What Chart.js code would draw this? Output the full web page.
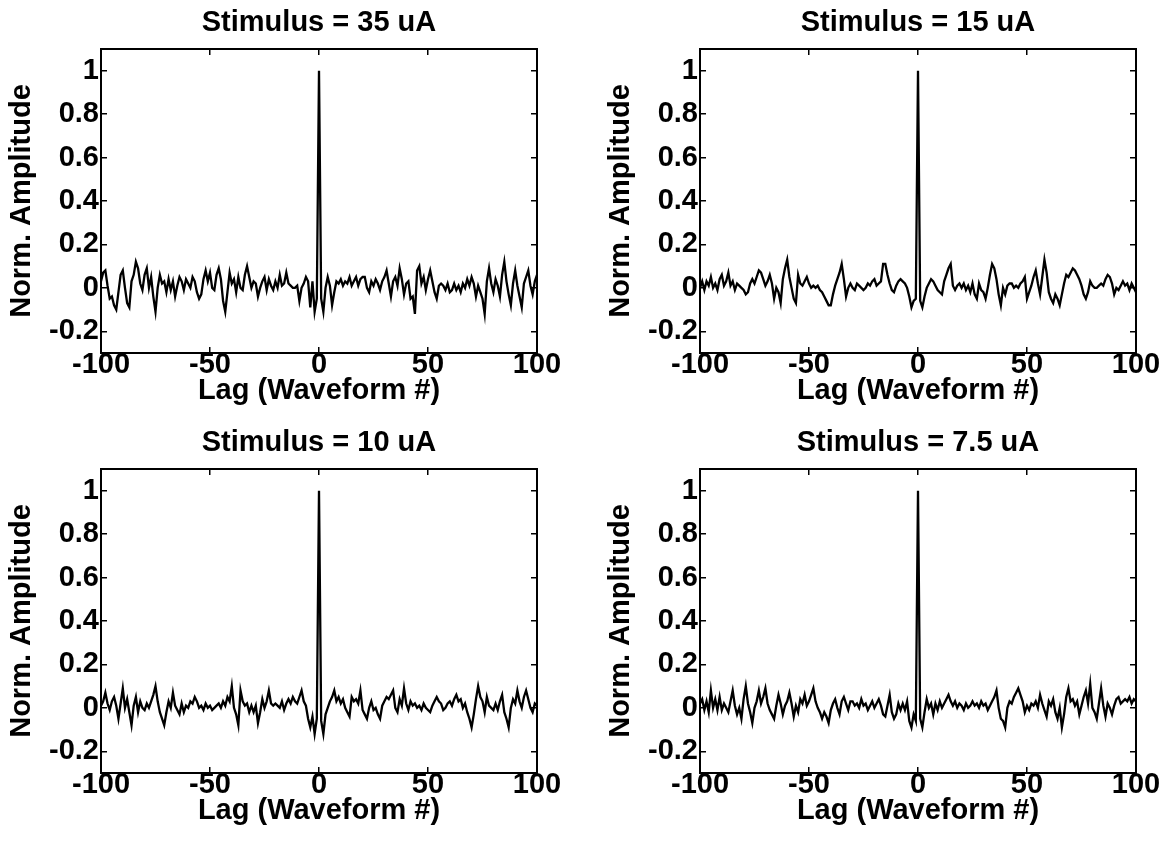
<!DOCTYPE html>
<html lang="en">
<head>
  <meta charset="UTF-8"/>
  <title>Norm. Amplitude vs Lag</title>
  <script src="https://cdn.jsdelivr.net/npm/chart.js"></script>
  <style>
    * { box-sizing: border-box; margin: 0; padding: 0; }
    html, body { width: 1173px; height: 842px; overflow: hidden; background: #fff; }
    canvas.panel { position: absolute; }
  </style>
</head>
<body>
  <canvas id="c0" class="panel" width="638" height="420" style="left:0;top:0"></canvas>
  <canvas id="c1" class="panel" width="638" height="420" style="left:599px;top:0"></canvas>
  <canvas id="c2" class="panel" width="638" height="420" style="left:0;top:420px"></canvas>
  <canvas id="c3" class="panel" width="638" height="420" style="left:599px;top:420px"></canvas>

  <script>
    // lag axis (waveform #), one point per lag
    const lags = Array.from({ length: 201 }, (_, i) => i - 100);
    const xTicks = [-100, -50, 0, 50, 100];
    const yTicks = [-0.2, 0, 0.2, 0.4, 0.6, 0.8, 1];
    const titles = ['Stimulus = 35 uA', 'Stimulus = 15 uA', 'Stimulus = 10 uA', 'Stimulus = 7.5 uA'];

    // values, lag -100 .. 100
    const amp35 = [
      0.03, 0.07, 0.08, 0.01, -0.05, -0.04, -0.08, -0.10, -0.02, 0.06,
      0.08, 0.00, -0.07, -0.09, 0.03, 0.06, 0.12, 0.09, 0.02, -0.01,
      0.06, 0.09, 0.00, 0.05, -0.04, -0.11, 0.00, 0.06, 0.02, 0.03,
      -0.02, 0.04, -0.01, 0.03, -0.04, 0.01, 0.05, 0.03, -0.01, 0.04,
      0.02, 0.00, 0.05, 0.03, -0.02, -0.05, -0.03, 0.04, 0.08, 0.03,
      0.07, 0.00, -0.01, 0.06, 0.09, 0.04, -0.06, -0.11, -0.02, 0.07,
      0.02, 0.04, -0.02, 0.05, 0.00, -0.01, 0.06, 0.10, 0.05, 0.00,
      0.03, 0.02, -0.04, 0.00, 0.03, 0.05, -0.01, 0.04, 0.01, -0.01,
      0.03, 0.00, 0.06, 0.01, 0.02, 0.07, 0.02, 0.01, 0.00, 0.00,
      0.01, -0.06, 0.00, 0.02, 0.05, 0.03, -0.09, 0.03, -0.11, -0.05,
      1.00,
      -0.05, -0.11, 0.00, 0.05, 0.01, -0.08, -0.02, 0.03, 0.02, 0.04,
      0.01, 0.03, 0.02, 0.05, 0.01, 0.03, 0.05, 0.01, 0.04, 0.05,
      0.05, 0.00, -0.02, 0.03, 0.01, 0.04, 0.02, -0.01, 0.03, 0.05,
      0.08, 0.02, -0.04, 0.03, 0.05, 0.01, 0.09, 0.04, -0.03, 0.02,
      0.03, -0.05, -0.04, -0.12, 0.08, 0.10, 0.02, 0.05, -0.01, 0.04,
      0.08, 0.03, -0.02, -0.05, 0.01, 0.02, 0.01, -0.01, 0.02, -0.02,
      -0.01, 0.02, -0.01, 0.01, -0.02, 0.02, 0.00, 0.04, 0.01, 0.05,
      0.02, -0.04, 0.01, -0.02, -0.05, -0.12, 0.03, 0.09, 0.02, -0.02,
      0.04, 0.01, -0.04, 0.06, 0.12, 0.03, -0.03, -0.08, 0.02, 0.08,
      0.01, -0.04, -0.09, 0.02, 0.05, 0.08, 0.01, -0.03, 0.03, 0.06
    ];
    const amp15 = [
      0.00, 0.03, -0.01, 0.03, 0.01, 0.05, 0.00, 0.02, -0.01, 0.04,
      0.06, 0.01, 0.03, 0.07, 0.01, 0.03, -0.01, 0.02, 0.01, 0.00,
      -0.01, -0.03, -0.02, 0.02, 0.04, 0.02, 0.05, 0.08, 0.07, 0.04,
      0.01, 0.03, 0.06, 0.02, -0.05, 0.00, -0.02, -0.07, 0.04, 0.09,
      0.13, 0.05, 0.00, -0.05, -0.07, 0.06, 0.02, 0.01, 0.03, 0.05,
      0.02, 0.00, 0.01, 0.00, 0.01, -0.01, -0.02, -0.04, -0.06, -0.08,
      -0.08, -0.03, 0.01, 0.04, 0.07, 0.11, 0.04, -0.04, 0.00, 0.02,
      0.00, -0.01, 0.02, 0.01, 0.00, -0.01, 0.00, 0.02, 0.01, 0.03,
      0.04, 0.01, 0.02, 0.03, 0.11, 0.11, 0.06, 0.02, -0.01, -0.02,
      0.01, 0.03, 0.04, 0.03, 0.02, 0.00, -0.04, -0.09, -0.06, -0.05,
      1.00,
      -0.06, -0.09, -0.04, 0.00, 0.02, 0.04, 0.03, 0.01, -0.01, -0.02,
      -0.03, 0.03, 0.06, 0.09, 0.11, 0.01, -0.01, 0.01, 0.02, 0.00,
      0.02, -0.01, 0.01, -0.02, 0.02, -0.03, -0.05, 0.02, -0.01, -0.02,
      -0.05, 0.00, 0.06, 0.11, 0.09, 0.04, -0.03, -0.08, 0.00, -0.03,
      0.01, 0.02, 0.02, 0.00, 0.01, 0.00, 0.02, 0.03, 0.05, -0.05,
      -0.02, 0.01, 0.05, 0.08, 0.02, -0.03, 0.05, 0.13, 0.07, -0.02,
      -0.05, -0.07, -0.03, -0.05, -0.08, -0.03, 0.02, 0.06, 0.05, 0.07,
      0.09, 0.08, 0.06, 0.04, 0.01, -0.03, -0.05, -0.02, 0.03, 0.01,
      0.00, 0.00, 0.01, 0.02, 0.01, 0.04, 0.06, 0.05, 0.02, -0.03,
      0.00, -0.01, 0.01, 0.03, 0.01, 0.02, -0.01, 0.02, 0.00, -0.02
    ];
    const amp10 = [
      0.01, 0.03, 0.07, 0.02, -0.01, 0.03, 0.05, 0.01, -0.05, 0.02,
      0.09, 0.00, 0.04, -0.02, -0.08, 0.01, 0.05, -0.02, 0.03, 0.00,
      -0.01, 0.02, 0.00, 0.03, 0.06, 0.10, 0.03, -0.02, -0.05, -0.08,
      -0.02, 0.03, 0.00, 0.07, 0.01, -0.01, -0.03, 0.02, -0.02, 0.01,
      0.00, 0.03, 0.02, 0.05, 0.03, 0.00, 0.01, -0.01, 0.02, 0.00,
      0.01, -0.01, 0.00, 0.01, 0.02, 0.00, 0.03, 0.01, 0.05, 0.03,
      0.10, 0.00, -0.03, -0.08, 0.08, 0.03, 0.01, 0.02, -0.02, 0.01,
      -0.02, 0.01, -0.07, -0.02, 0.04, 0.00, 0.03, 0.08, 0.02, 0.01,
      0.02, 0.01, 0.00, 0.03, -0.01, 0.02, 0.04, 0.02, 0.05, 0.03,
      0.02, 0.05, 0.08, 0.03, 0.01, -0.05, -0.09, -0.04, -0.12, -0.05,
      1.00,
      -0.06, -0.12, -0.03, 0.00, 0.03, 0.05, 0.08, 0.03, 0.05, 0.02,
      0.04, 0.00, -0.02, -0.04, 0.05, 0.03, 0.04, 0.02, 0.08, -0.01,
      -0.03, -0.05, 0.00, 0.03, -0.01, 0.00, -0.03, -0.05, 0.01, 0.03,
      0.05, 0.04, 0.06, 0.08, 0.00, -0.02, 0.04, 0.01, 0.09, 0.02,
      -0.01, 0.03, 0.01, 0.02, 0.00, 0.01, -0.01, 0.02, 0.00, -0.01,
      -0.02, 0.01, 0.03, 0.05, 0.03, 0.02, -0.01, 0.00, 0.02, 0.03,
      0.01, 0.04, 0.06, 0.03, 0.04, 0.00, 0.02, -0.02, -0.05, -0.09,
      -0.03, 0.04, 0.10, 0.05, 0.03, -0.02, 0.05, 0.01, 0.00, -0.01,
      0.02, -0.01, 0.03, 0.06, -0.02, -0.05, -0.09, 0.00, 0.04, 0.02,
      0.08, 0.03, 0.00, 0.05, 0.08, 0.04, 0.00, -0.02, 0.02, 0.01
    ];
    const amp7_5 = [
      0.02, 0.04, -0.01, 0.03, -0.02, 0.08, 0.00, 0.04, -0.01, 0.05,
      -0.01, 0.02, 0.00, -0.02, 0.03, 0.08, 0.01, -0.03, 0.00, -0.05,
      0.04, 0.10, 0.02, -0.02, -0.07, 0.00, 0.03, 0.08, 0.02, 0.05,
      0.09, 0.02, -0.01, -0.03, -0.05, 0.01, 0.06, 0.02, -0.03, 0.01,
      0.03, 0.07, 0.02, -0.04, 0.01, -0.02, 0.04, 0.02, 0.06, 0.01,
      0.03, 0.06, 0.09, 0.03, 0.00, -0.02, -0.05, -0.02, -0.04, -0.07,
      -0.01, 0.02, 0.04, 0.00, -0.03, 0.03, 0.05, 0.02, -0.01, 0.03,
      0.03, 0.01, 0.02, 0.00, 0.04, 0.01, 0.02, -0.01, 0.01, 0.03,
      0.00, 0.02, 0.04, 0.01, -0.03, -0.04, 0.01, 0.06, -0.02, -0.05,
      -0.03, 0.02, -0.01, 0.02, -0.01, 0.03, -0.06, -0.09, -0.03, -0.06,
      1.00,
      -0.05, -0.09, -0.02, 0.04, 0.00, 0.02, -0.03, 0.02, -0.01, 0.03,
      0.00, 0.02, 0.04, 0.06, 0.03, 0.01, 0.03, 0.00, 0.02, 0.01,
      -0.01, 0.02, 0.00, 0.01, 0.03, 0.01, 0.02, 0.00, 0.03, 0.01,
      0.02, -0.01, 0.01, 0.03, 0.05, 0.08, 0.00, -0.05, -0.06, -0.09,
      0.00, 0.03, 0.02, 0.05, 0.07, 0.09, 0.06, 0.03, -0.02, 0.01,
      -0.01, 0.02, 0.01, 0.03, 0.00, 0.06, 0.02, -0.01, -0.04, 0.03,
      0.01, 0.04, -0.02, -0.05, 0.00, -0.09, -0.03, 0.05, 0.09, 0.03,
      0.04, 0.01, 0.03, -0.03, 0.01, 0.05, 0.08, 0.02, 0.11, 0.00,
      -0.02, -0.05, 0.02, 0.09, 0.01, -0.04, 0.02, 0.00, -0.03, 0.01,
      0.04, 0.05, 0.02, 0.03, 0.04, 0.03, 0.05, 0.02, 0.04, 0.03
    ];

    const series = [amp35, amp15, amp10, amp7_5];
    series.forEach((s, i) => {
      if (s.length !== lags.length) throw new Error('series ' + i + ' has ' + s.length + ' points');
    });

    Chart.defaults.font.family = "'Liberation Sans', Arial, Helvetica, sans-serif";
    Chart.defaults.color = '#000';

    const bigFont = { size: 29, weight: 'bold', lineHeight: 1.2 };
    const tickFont = { size: 29, weight: 'bold', lineHeight: 1 };
    const frame = { display: true, color: '#000', width: 2 };
    // MATLAB style: short tick marks pointing into the box
    const inTicks = { display: true, drawOnChartArea: false, drawTicks: true, tickLength: -6, color: '#000', lineWidth: 1.5 };

    function setTicks(values) {
      return axis => { axis.ticks = values.map(v => ({ value: v })); };
    }

    function makePanel(id, title, values) {
      return new Chart(document.getElementById(id), {
        type: 'line',
        data: {
          labels: lags,
          datasets: [{
            data: values,
            borderColor: '#000',
            borderWidth: 2.3,
            pointRadius: 0,
            tension: 0,
            fill: false
          }]
        },
        options: {
          responsive: false,
          animation: false,
          layout: { padding: 0 },
          plugins: {
            legend: { display: false },
            tooltip: { enabled: false },
            title: {
              display: true,
              text: title,
              color: '#000',
              font: bigFont,
              padding: { top: 6, bottom: 8.2 }
            }
          },
          scales: {
            x: {
              type: 'linear',
              position: 'bottom',
              min: -100, max: 100,
              afterBuildTicks: setTicks(xTicks),
              afterFit: axis => { axis.height = 67; },
              border: frame,
              grid: inTicks,
              ticks: { font: tickFont, padding: 3.5, maxRotation: 0, autoSkip: false, callback: v => String(v) },
              title: { display: true, text: 'Lag (Waveform #)', font: bigFont, padding: { top: 0, bottom: 11.6 } }
            },
            y: {
              type: 'linear',
              position: 'left',
              min: -0.3, max: 1.1,
              afterBuildTicks: setTicks(yTicks),
              afterFit: axis => { axis.width = 101; },
              border: frame,
              grid: inTicks,
              ticks: { font: tickFont, padding: 8, autoSkip: false, callback: v => String(v) },
              title: { display: true, text: 'Norm. Amplitude', font: bigFont, padding: { top: 5, bottom: 0 } }
            },
            xTop: {
              type: 'linear',
              position: 'top',
              display: true,
              min: -100, max: 100,
              afterBuildTicks: setTicks(xTicks),
              afterFit: axis => { axis.height = 0; },
              border: frame,
              grid: inTicks,
              ticks: { display: false }
            },
            yRight: {
              type: 'linear',
              position: 'right',
              display: true,
              min: -0.3, max: 1.1,
              afterBuildTicks: setTicks(yTicks),
              afterFit: axis => { axis.width = 101; },
              border: frame,
              grid: inTicks,
              ticks: { display: false }
            }
          }
        }
      });
    }

    series.forEach((s, i) => makePanel('c' + i, titles[i], s));
  </script>
</body>
</html>
